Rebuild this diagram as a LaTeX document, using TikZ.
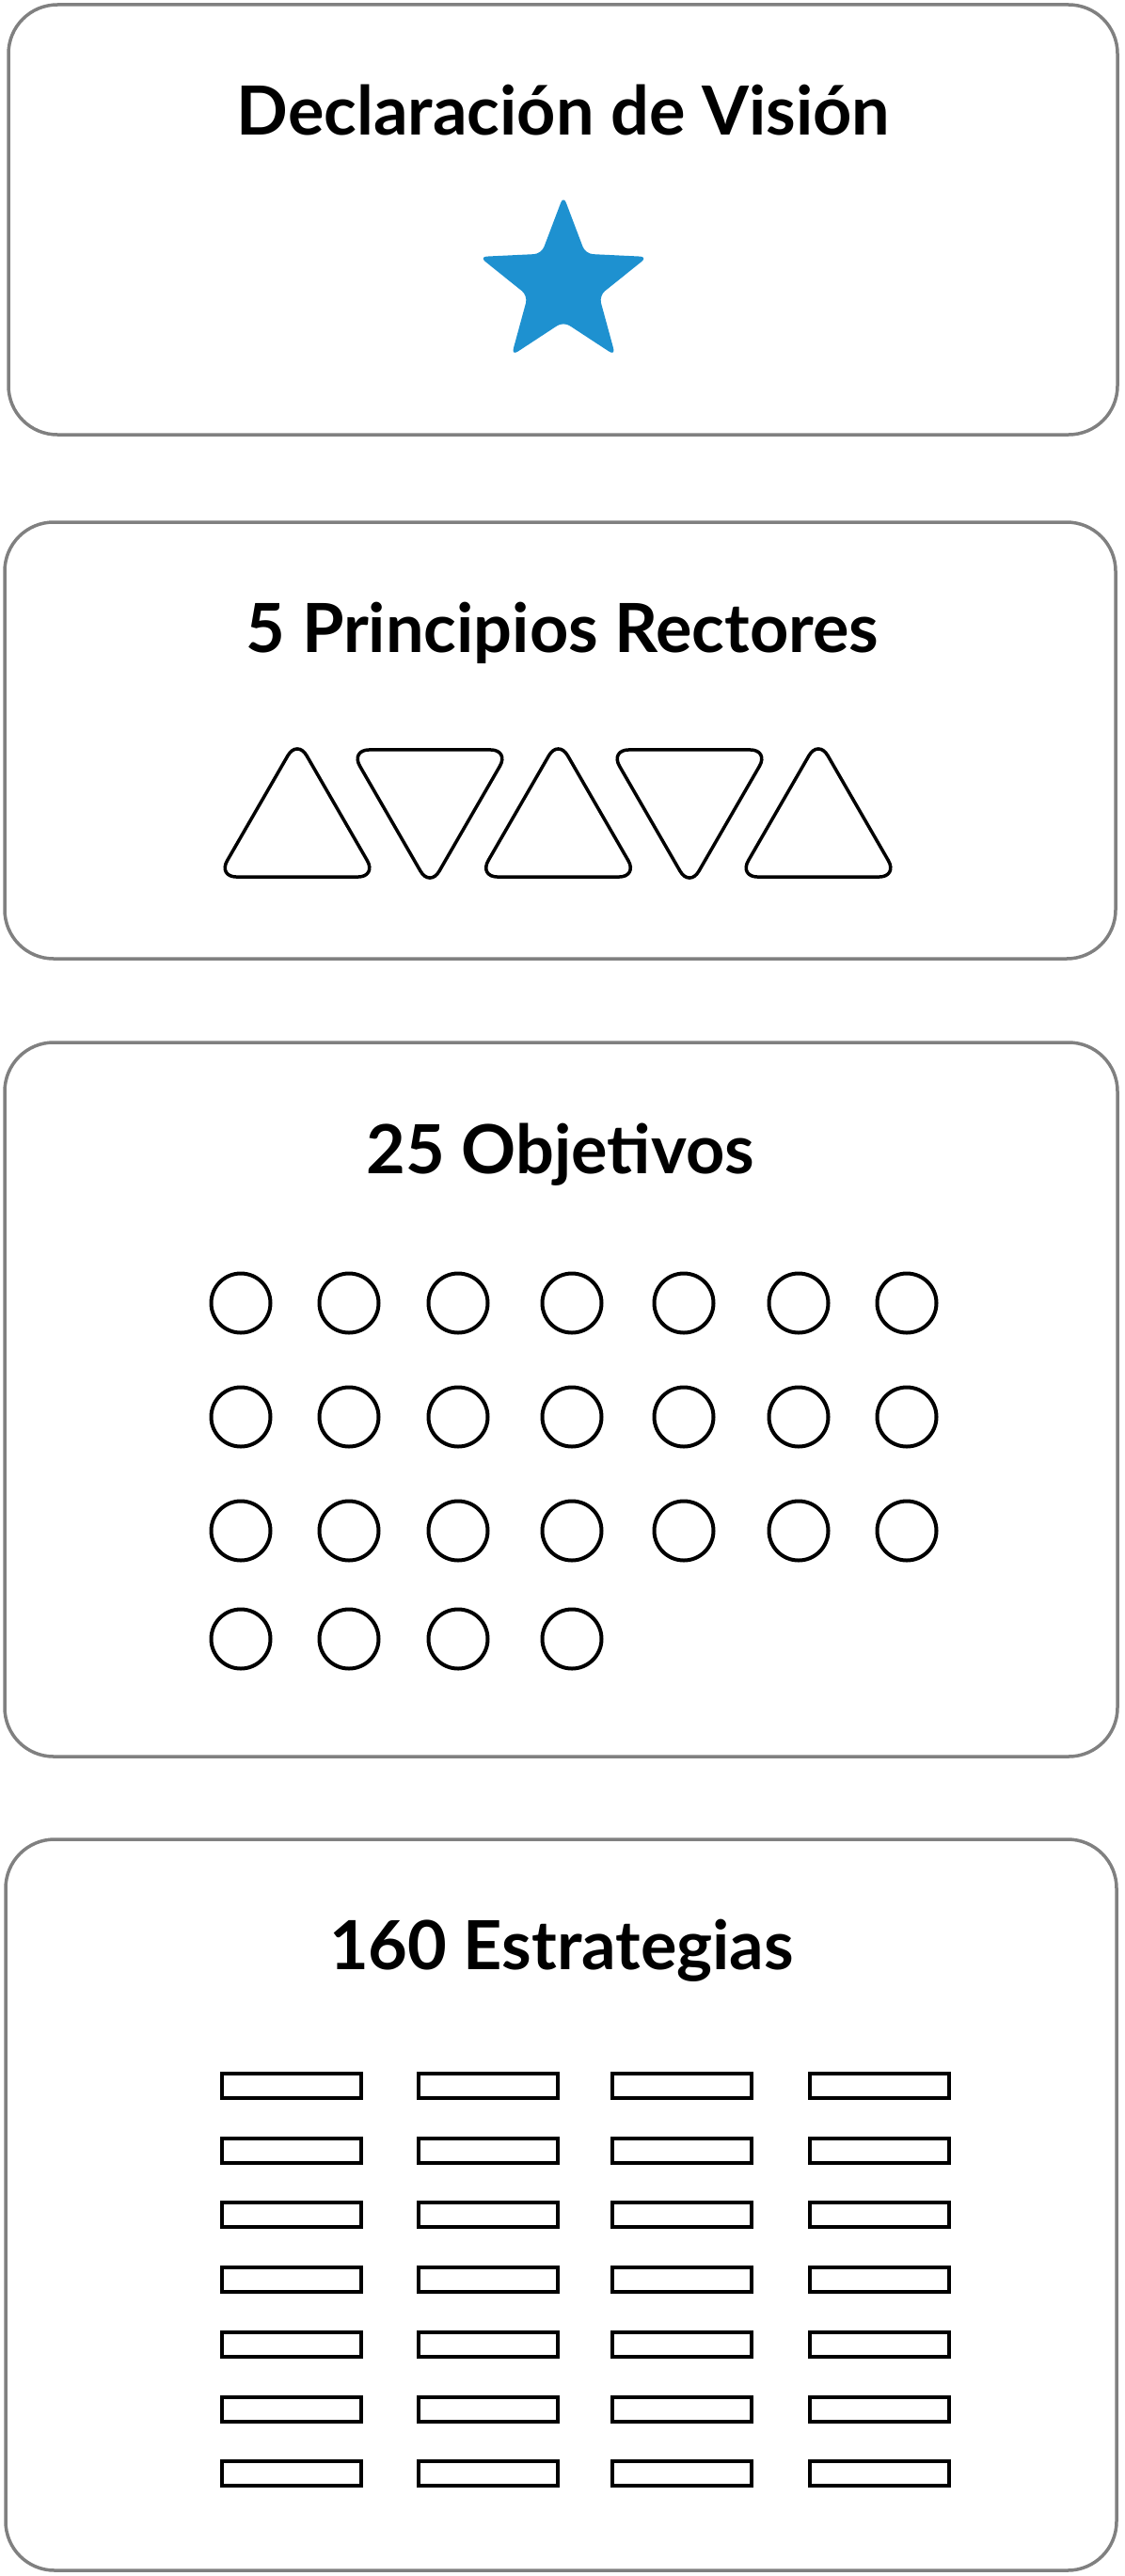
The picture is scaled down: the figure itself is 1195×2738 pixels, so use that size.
\documentclass[tikz,border=0pt]{standalone}
\usepackage{fontspec}
\setmainfont{Lato}
\usetikzlibrary{shapes.geometric}
\definecolor{visionblue}{RGB}{30,145,208}
\definecolor{panelgray}{RGB}{128,128,128}
\tikzset{
    panel/.style={draw=panelgray, line width=3.5pt, rounded corners=52pt},
    heading/.style={anchor=base, font=\fontsize{72}{80}\selectfont\bfseries},
    tri/.style={draw, line width=3.5pt, regular polygon, regular polygon sides=3,
        minimum size=195pt, inner sep=0pt, rounded corners=20pt},
    goal/.style={draw, circle, line width=4pt, minimum size=63pt, inner sep=0pt},
    strat/.style={draw, rectangle, line width=4pt, minimum width=148pt,
        minimum height=26pt, inner sep=0pt},
}
\begin{document}
\begin{tikzpicture}[x=1pt,y=-1pt]
        \useasboundingbox (0,0) rectangle (1195,2738);

        \draw[panel] (9,5) rectangle (1188,462);
        \node[heading] (vision) at (599,143) {Declaración de Visión};
        \node[star, star points=5, star point ratio=2.36, minimum size=188pt,
            inner sep=0pt, fill=visionblue, rounded corners=8pt] (star) at (599,302) {};
        %%%%%%%%%%

        \draw[panel] (5,555) rectangle (1186,1019);
        \node[heading] (principles) at (598,693) {5 Principios Rectores};
        \node[tri] (p1) at (316,883.3) {};
        \node[tri, shape border rotate=180] (p2) at (457,845.7) {};
        \node[tri] (p3) at (593.5,883.3) {};
        \node[tri, shape border rotate=180] (p4) at (733,845.7) {};
        \node[tri] (p5) at (870,883.3) {};
        %%%%%%%%%%

        \draw[panel] (5,1108) rectangle (1188,1867);
        \node[heading] (goals) at (596,1247) {25 Objetivos};
        \foreach \x [count=\i] in {256,371,487,608,727,849,964} {
            \foreach \y [count=\j] in {1385,1506,1627} {
                \node[goal] (g\j\i) at (\x,\y) {};
            }
        }
        \foreach \x [count=\i] in {256,371,487,608}
            \node[goal] (g4\i) at (\x,1742) {};
        %%%%%%%%%%

        \draw[panel] (6,1955) rectangle (1187,2732);
        \node[heading] (strategies) at (597,2093) {160 Estrategias};
        \foreach \x [count=\i] in {309.5,519,725,935}
            \foreach \k in {0,...,6}
                \node[strat] (s\k\i) at (\x,2217+68.7*\k) {};
    \end{tikzpicture}
\end{document}
